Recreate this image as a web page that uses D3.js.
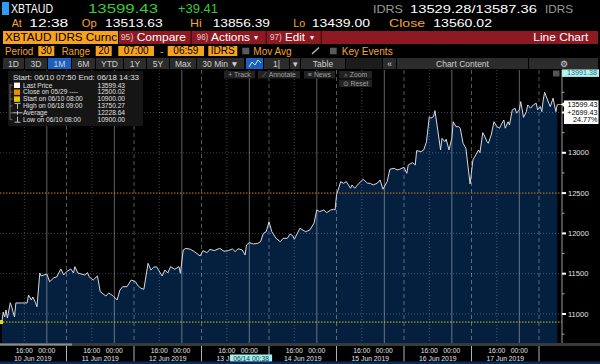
<!DOCTYPE html>
<html>
<head>
<meta charset="utf-8">
<title>XBTAUD</title>
<script src="https://cdn.jsdelivr.net/npm/d3@7"></script>
<style>
  body { margin: 0; background: #000; }
  svg { display: block; }
</style>
</head>
<body>
<div id="chart"></div>
<script>
  // quote header
  const ticker = "XBTAUD";
  const lastPrice = 13599.43, netChange = 39.41;
  const bid = 13529.28, ask = 13587.36;
  const quoteTime = "12:38", openPx = 13513.63, hiPx = 13856.39, loPx = 13439.00, closePx = 13560.02;

  // chart stats
  const priorClose = 12500.02, startPx = 10900.00, periodHigh = 13750.27, avgPx = 12228.64, periodLow = 10900.00;
  const cursorTime = "06/14 00:38", cursorPrice = 13991.38;

  const yTicks = [11000, 11500, 12000, 12500, 13000, 13500];
  const sessionLabels = ["10 Jun 2019", "11 Jun 2019", "12 Jun 2019", "13 Jun 2019",
                         "14 Jun 2019", "15 Jun 2019", "16 Jun 2019", "17 Jun 2019"];

  // 30 min closes
  const prices = [
    ["06/10 08:00",10900],["06/10 08:30",11025],["06/10 09:00",10963],["06/10 09:30",11050],
    ["06/10 10:00",10950],["06/10 11:00",11140],["06/10 11:30",11090],["06/10 12:30",10963],
    ["06/10 13:00",11137],["06/10 15:00",11137],["06/10 17:00",11137],["06/10 17:30",11236],
    ["06/10 18:30",11174],["06/10 19:00",11211],["06/10 20:00",11140],["06/10 20:30",11090],
    ["06/10 21:30",11509],["06/10 22:00",11472],["06/10 23:00",11484],["06/11 00:00",11496],
    ["06/11 01:00",11401],["06/11 02:30",11450],["06/11 03:30",11459],["06/11 05:00",11558],
    ["06/11 06:00",11484],["06/11 07:00",11525],["06/11 08:30",11558],["06/11 09:30",11509],
    ["06/11 10:00",11587],["06/11 11:00",11509],["06/11 13:30",11484],["06/11 14:30",11513],
    ["06/11 15:00",11463],["06/11 16:30",11422],["06/11 18:00",11472],["06/11 19:00",11277],
    ["06/11 21:00",11223],["06/11 22:00",11261],["06/11 23:30",11227],["06/12 01:00",11174],
    ["06/12 02:00",11298],["06/12 03:00",11339],["06/12 04:30",11339],["06/12 06:00",11422],
    ["06/12 07:30",11401],["06/12 08:30",11347],["06/12 09:30",11319],["06/12 10:30",11307],
    ["06/12 12:00",11629],["06/12 13:00",11546],["06/12 14:00",11580],["06/12 15:00",11587],
    ["06/12 17:00",11472],["06/12 18:00",11546],["06/12 19:00",11509],["06/12 20:00",11587],
    ["06/12 21:30",11555],["06/12 23:00",11587],["06/12 23:30",11505],["06/13 00:30",11794],
    ["06/13 01:30",11815],["06/13 03:00",11803],["06/13 04:30",11773],["06/13 06:30",11720],
    ["06/13 07:30",11786],["06/13 09:00",11761],["06/13 10:00",11803],["06/13 11:30",11786],
    ["06/13 13:30",11815],["06/13 15:00",11778],["06/13 16:30",11786],["06/13 18:00",11807],
    ["06/13 19:00",11773],["06/13 20:00",11810],["06/13 21:30",11794],["06/13 22:30",11732],
    ["06/13 23:00",11856],["06/14 00:00",11885],["06/14 01:30",11869],["06/14 03:00",11877],
    ["06/14 04:00",11897],["06/14 05:00",12001],["06/14 06:00",12021],["06/14 07:00",12145],
    ["06/14 08:00",12021],["06/14 09:30",11939],["06/14 11:00",11897],["06/14 12:00",11939],
    ["06/14 13:30",11939],["06/14 14:30",11993],["06/14 15:30",11968],["06/14 16:00",11927],
    ["06/14 18:00",12064],["06/14 20:00",12021],["06/14 21:30",12042],["06/14 23:00",12126],
    ["06/15 00:00",12291],["06/15 01:00",12270],["06/15 02:30",12291],["06/15 03:30",12257],
    ["06/15 05:00",12291],["06/15 06:00",12299],["06/15 06:30",12291],["06/15 07:00",12477],
    ["06/15 08:30",12642],["06/15 09:30",12622],["06/15 10:30",12642],["06/15 12:00",12560],
    ["06/15 12:30",12601],["06/15 13:30",12560],["06/15 15:00",12622],["06/15 16:30",12672],
    ["06/15 18:00",12622],["06/15 19:00",12622],["06/15 20:00",12601],["06/15 21:30",12622],
    ["06/15 22:30",12663],["06/15 23:30",12548],["06/16 01:00",12642],["06/16 02:00",12796],
    ["06/16 03:30",12808],["06/16 04:30",12787],["06/16 05:30",12796],["06/16 07:00",12821],
    ["06/16 08:00",12746],["06/16 08:30",12849],["06/16 10:00",12878],["06/16 11:00",12849],
    ["06/16 11:30",13027],["06/16 13:00",13014],["06/16 14:00",13035],["06/16 15:00",13138],
    ["06/16 16:00",13449],["06/16 16:30",13429],["06/16 17:30",13449],["06/16 18:00",13523],
    ["06/16 19:00",13283],["06/16 20:00",13035],["06/16 20:30",13180],["06/16 21:30",13138],
    ["06/16 22:00",13168],["06/16 23:00",13035],["06/17 00:00",13180],["06/17 00:30",13386],
    ["06/17 01:30",13324],["06/17 02:30",13324],["06/17 03:00",13305],["06/17 04:00",13118],
    ["06/17 05:00",13056],["06/17 05:30",12911],["06/17 06:30",12613],["06/17 07:30",12911],
    ["06/17 08:30",12973],["06/17 09:30",13035],["06/17 10:00",13002],["06/17 11:00",13250],
    ["06/17 11:30",13221],["06/17 12:30",13138],["06/17 13:00",13118],["06/17 14:00",13221],
    ["06/17 15:00",13386],["06/17 16:00",13324],["06/17 17:00",13305],["06/17 17:30",13345],
    ["06/17 18:30",13407],["06/17 19:00",13305],["06/17 20:00",13386],["06/17 20:30",13345],
    ["06/17 21:30",13532],["06/17 22:30",13553],["06/17 23:00",13491],["06/18 00:00",13532],
    ["06/18 00:30",13635],["06/18 01:30",13440],["06/18 02:30",13511],["06/18 03:00",13594],
    ["06/18 04:00",13553],["06/18 05:00",13594],["06/18 06:00",13615],["06/18 06:30",13532],
    ["06/18 07:30",13573],["06/18 08:00",13511],["06/18 08:30",13656],["06/18 09:00",13750.27],
    ["06/18 10:30",13615],["06/18 11:00",13573],["06/18 12:00",13677],["06/18 12:30",13594],
    ["06/18 13:00",13511],["06/18 13:30",13599.43]
  ];

  const FONT = "Liberation Sans, Arial, sans-serif";
  const ORANGE = "#f3a530", ORANGE_BOX = "#f7a21c";
  const fmt = d3.format(".2f");

  const svg = d3.select("#chart").append("svg")
    .attr("width", 600).attr("height", 364);
  svg.append("rect").attr("width", 600).attr("height", 364).attr("fill", "#000");

  function text(g, x, y, s, o = {}) {
    const t = g.append("text").attr("x", x).attr("y", y).text(s)
      .attr("fill", o.fill || "#fff")
      .attr("font-size", o.size || 10)
      .attr("font-family", o.family || FONT)
      .attr("text-anchor", o.anchor || "start");
    if (o.w) t.attr("textLength", o.w).attr("lengthAdjust", "spacingAndGlyphs");
    return t;
  }
  function box(g, x, y, w, h, fill) {
    return g.append("rect").attr("x", x).attr("y", y).attr("width", w).attr("height", h).attr("fill", fill);
  }

  // ---------- header rows ----------
  let hdr = svg.append("g");
  box(hdr, 2, 2, 7, 13, "#2a9df4");
  text(hdr, 11, 12.7, ticker, {size: 13, w: 42});
  text(hdr, 88, 12.7, fmt(lastPrice), {size: 13, fill: "#3cc83c", w: 70});
  text(hdr, 178, 12.7, d3.format("+.2f")(netChange), {size: 13, fill: "#3cc83c", w: 40});
  text(hdr, 373, 12.5, "IDRS", {size: 11, fill: "#9a9a9a", w: 30});
  text(hdr, 410, 12.5, fmt(bid) + "/" + fmt(ask), {size: 11.5, w: 127});
  text(hdr, 545, 12.5, "IDRS", {size: 11, fill: "#9a9a9a", w: 28});

  let row2 = [["At", 11.7, 10, ORANGE], [quoteTime, 29.3, 39, "#fff"],
              ["Op", 81.7, 15, ORANGE], [fmt(openPx), 105, 57.7, "#fff"],
              ["Hi", 190, 11.7, ORANGE], [fmt(hiPx), 212.7, 57.3, "#fff"],
              ["Lo", 293.3, 12, ORANGE], [fmt(loPx), 311.7, 58.3, "#fff"],
              ["Close", 389, 36, ORANGE], [fmt(closePx), 433.3, 58.7, "#fff"]];
  row2.forEach(([s, x0, w, c]) => text(hdr, x0, 27.3, s, {size: 11, fill: c, w: w}));

  // row 3: security + red menu bar
  box(hdr, 3, 31, 115, 13, ORANGE_BOX);
  text(hdr, 5, 40.8, ticker + " IDRS Curnc", {size: 11, fill: "#000", w: 112});
  box(hdr, 119, 31, 479, 13, "#8d1a22");
  [190.7, 265.7, 320.7].forEach(sx => box(hdr, sx, 31, 1, 13, "#3a0508"));
  [["95)", 120.7, 12.6, "Compare", 136.7, 49.3], ["96)", 196.7, 11.6, "Actions", 211, 39], ["97)", 270, 11.7, "Edit", 285, 20]]
    .forEach(([n, nx, nw, s, sx, sw]) => {
      text(hdr, nx, 40.3, n, {size: 9, fill: "#e8c8c8", w: nw});
      text(hdr, sx, 40.8, s, {size: 11, fill: "#fff", w: sw});
    });
  text(hdr, 254, 40, "▾", {size: 8, fill: "#eee"});
  text(hdr, 310, 40, "▾", {size: 8, fill: "#eee"});
  text(hdr, 588.3, 40.8, "Line Chart", {size: 11, fill: "#fff", anchor: "end", w: 55});

  // row 4: period / range
  text(hdr, 5, 54.6, "Period", {size: 10, fill: ORANGE, w: 28.3});
  text(hdr, 61.7, 54.6, "Range", {size: 10, fill: ORANGE, w: 28.3});
  text(hdr, 160, 54.6, "-", {size: 10, fill: ORANGE});
  [["30", 38.3, 16], ["20", 95.7, 16], ["07:00", 118.3, 35.7], ["06:59", 167.7, 36.3], ["IDRS", 208.3, 29]]
    .forEach(([s, bx, bw]) => {
      box(hdr, bx, 46, bw, 10, ORANGE_BOX);
      text(hdr, bx + bw / 2, 54.4, s, {size: 10, fill: "#000", anchor: "middle"});
    });
  box(hdr, 242.3, 47.7, 7, 6.6, "#5a5a5a");
  text(hdr, 253.3, 54.6, "Mov Avg", {size: 10, fill: ORANGE, w: 38.3});
  hdr.append("line").attr("x1", 312).attr("y1", 54).attr("x2", 319).attr("y2", 47.5)
    .attr("stroke", "#bbb").attr("stroke-width", 1.4);
  box(hdr, 330, 47.7, 6.7, 6.6, "#5a5a5a");
  text(hdr, 341.7, 54.6, "Key Events", {size: 10, fill: ORANGE, w: 51});

  // row 5: toolbar buttons
  let btns = [["1D", 3, 21], ["3D", 25, 22], ["1M", 48, 23, true], ["6M", 72, 23], ["YTD", 96, 27],
              ["1Y", 124, 22], ["5Y", 147, 22], ["Max", 170, 26], ["30 Min ▼", 197, 47], ["", 246, 17, true],
              ["1|", 264, 25], ["▾", 290, 10], ["Table", 301, 44], ["", 346, 36], ["«", 383, 13],
              ["Chart Content", 397, 131], ["⚙", 529, 69]];
  btns.forEach(([s, bx, bw, on]) => {
    box(hdr, bx, 58, bw, 11, on ? "#1d5fbf" : (s ? "#2c2c2c" : "#1c1c1c"));
    if (s) text(hdr, bx + bw / 2, 66.6, s, {size: 8.5, fill: "#d0d0d0", anchor: "middle"});
  });
  // line chart glyph in the blue button
  hdr.append("path").attr("d", "M249,67 L252,62 L255,65 L258,60 L261,63")
    .attr("fill", "none").attr("stroke", "#cfe0ff").attr("stroke-width", 1);

  // ---------- plot ----------
  const plotTop = 70, plotBottom = 343, plotRight = 562;
  const parse = d3.timeParse("%Y/%m/%d %H:%M");
  const T = s => parse("2019/" + s);
  const data = prices.map(([t, v]) => ({t: T(t), v: v}));

  const x = d3.scaleTime().domain([T("06/10 07:00"), T("06/18 15:00")]).range([-1, 561.5]);
  const y = d3.scaleLinear().domain([11000, 13500]).range([314, 112.5]);

  const plot = svg.append("g");
  plot.append("defs").append("clipPath").attr("id", "clip")
    .append("rect").attr("x", 0).attr("y", plotTop).attr("width", plotRight).attr("height", plotBottom - plotTop);
  const pg = plot.append("g").attr("clip-path", "url(#clip)");

  pg.append("path").datum(data)
    .attr("d", d3.area().x(d => x(d.t)).y0(plotBottom).y1(d => y(d.v)))
    .attr("fill", "#05203f");

  // grid
  const days = d3.timeDay.range(T("06/10 00:00"), T("06/19 00:00"));
  days.forEach(d => {
    [[0, 0.38, null], [7, 0.34, "4,3"], [16, 0.26, "1,2"]].forEach(([h, op, dash]) => {
      const xv = x(d3.timeHour.offset(d, h));
      if (xv < 1 || xv > plotRight - 1) return;
      pg.append("line").attr("x1", xv).attr("x2", xv).attr("y1", plotTop).attr("y2", plotBottom)
        .attr("stroke", "#fff").attr("stroke-opacity", op).attr("stroke-dasharray", dash);
    });
  });
  yTicks.forEach(v => {
    pg.append("line").attr("x1", 0).attr("x2", plotRight).attr("y1", y(v)).attr("y2", y(v))
      .attr("stroke", "#fff").attr("stroke-opacity", 0.26).attr("stroke-dasharray", "1,2");
  });

  // reference lines: prior close and period start
  pg.append("line").attr("x1", 0).attr("x2", plotRight).attr("y1", y(priorClose)).attr("y2", y(priorClose))
    .attr("stroke", "#c46a00").attr("stroke-dasharray", "1.5,1.5");
  pg.append("line").attr("x1", 0).attr("x2", plotRight).attr("y1", y(startPx)).attr("y2", y(startPx))
    .attr("stroke", "#d4c400").attr("stroke-dasharray", "1.5,1.5");
  box(pg, 0, y(startPx) - 2, 3, 4, "#e8d400");

  pg.append("path").datum(data)
    .attr("d", d3.line().x(d => x(d.t)).y(d => y(d.v)))
    .attr("fill", "none").attr("stroke", "#d4dae2").attr("stroke-width", 1);

  // y axis on the right (labels hidden where the last-price tag sits)
  plot.append("line").attr("x1", plotRight).attr("x2", plotRight).attr("y1", plotTop).attr("y2", plotBottom)
    .attr("stroke", "#9a9a9a");
  d3.range(10750, 13751, 250).forEach(v => {
    const major = v % 500 === 0;
    box(plot, plotRight, y(v) - (major ? 1 : 0.5), major ? 4 : 2.5, major ? 2 : 1, major ? "#fff" : "#aaa");
    if (major && Math.abs(y(v) - y(lastPrice)) > 20)
      text(plot, 568, y(v) + 2.6, String(v), {size: 7.5, fill: "#e0e0e0"});
  });

  // last price marker and box
  plot.append("line").attr("x1", x(data[data.length - 1].t)).attr("x2", 565)
    .attr("y1", y(lastPrice)).attr("y2", y(lastPrice)).attr("stroke", "#d0a020");
  box(plot, 564, y(lastPrice) - 4, 34.5, 23.5, "#fff");
  plot.append("path").attr("d", `M561,${y(lastPrice)} L565,${y(lastPrice) - 3} L565,${y(lastPrice) + 3}Z`).attr("fill", "#fff");
  [fmt(lastPrice), d3.format("+.2f")(lastPrice - startPx), d3.format(".2%")((lastPrice - startPx) / startPx)]
    .forEach((s, i) => text(plot, 597.5, y(lastPrice) + 2.5 + i * 7.6, s, {size: 7.2, fill: "#000", anchor: "end"}));

  // cursor price tag
  box(plot, 553, plotTop + 0.5, 6.5, 6, "#555");
  box(plot, 562, y(cursorPrice) - 3.5, 37, 7.5, "#b4f2f2");
  text(plot, 597, y(cursorPrice) + 2.6, fmt(cursorPrice), {size: 7.2, fill: "#2d6c74", anchor: "end"});

  // chart tool buttons
  [["+  Track", 224, 71, 31], ["⟋  Annotate", 258, 71, 42], ["≡  News", 304, 71, 31],
   ["⌕  Zoom", 339, 71, 33], ["⊙  Reset", 339, 79.5, 33]].forEach(([s, bx, by, bw]) => {
    box(plot, bx, by, bw, 7.5, "#222");
    text(plot, bx + bw / 2, by + 6, s, {size: 6.8, fill: "#a0a0a0", anchor: "middle"});
  });

  // legend panel
  const lg = plot.append("g");
  box(lg, 8, 71, 135, 55, "#151515");
  text(lg, 13, 79.8, "Start: 06/10 07:50 End: 06/18 14:33", {size: 7, fill: "#e0e0e0", w: 126});
  const legendRows = [
    ["Last Price", lastPrice, "#ffffff"],
    ["Close on 05/29 ----", priorClose, "#f08c00"],
    ["Start on 06/10 08:00", startPx, "#e8c800"],
    ["High on 06/18 09:00", periodHigh, "high"],
    ["Average", avgPx, "avg"],
    ["Low on 06/10 08:00", periodLow, "low"]
  ];
  lg.append("line").attr("x1", 10).attr("x2", 10).attr("y1", 84).attr("y2", 120).attr("stroke", "#666");
  legendRows.forEach(([s, v, ic], i) => {
    const cy = 85.2 + i * 6.9;
    lg.append("line").attr("x1", 10).attr("x2", 12.5).attr("y1", cy).attr("y2", cy).attr("stroke", "#666");
    if (ic === "high") {
      lg.append("path").attr("d", `M14.5,${cy - 2.5} H20.5 M17.5,${cy - 2.5} V${cy + 3}`).attr("stroke", "#bbb").attr("fill", "none");
    } else if (ic === "avg") {
      lg.append("path").attr("d", `M12.5,${cy} H22.5 M17.5,${cy - 2} V${cy + 2}`).attr("stroke", "#bbb").attr("fill", "none");
    } else if (ic === "low") {
      lg.append("path").attr("d", `M14.5,${cy + 2.5} H20.5 M17.5,${cy + 2.5} V${cy - 3}`).attr("stroke", "#bbb").attr("fill", "none");
    } else {
      box(lg, 14, cy - 2.6, 6, 5.4, ic);
    }
    text(lg, 23, cy + 2.3, s, {size: 6.6, fill: "#e0e0e0"});
    text(lg, 97.5, cy + 2.3, fmt(v), {size: 6.6, fill: "#e0e0e0"});
  });

  // ---------- x axis ----------
  const xa = svg.append("g");
  box(xa, 0, 343, 600, 3, "#3a3a3a");
  box(xa, 0, 343.5, 72, 2, "#8a8a8a");
  const sessions = d3.timeDay.range(T("06/10 00:00"), T("06/18 00:00"));
  sessions.forEach((d, i) => {
    const s0 = d3.timeHour.offset(d, 7);
    const xs = x(d3.timeDay.offset(s0, 1));
    xa.append("line").attr("x1", xs).attr("x2", xs).attr("y1", 346).attr("y2", 361.5).attr("stroke", "#b0b0b0");
    text(xa, x(d3.timeHour.offset(d, 16)), 353.3, "16:00", {size: 6.8, fill: "#e0e0e0", anchor: "middle"});
    text(xa, x(d3.timeHour.offset(d, 24)), 353.3, "00:00", {size: 6.8, fill: "#e0e0e0", anchor: "middle"});
    text(xa, x(d3.timeHour.offset(s0, 12)), 360.6, sessionLabels[i], {size: 6.8, fill: "#e0e0e0", anchor: "middle"});
  });
  const cx = x(T(cursorTime));
  box(xa, cx - 21, 354.5, 42, 7.2, "#a8f0f0");
  text(xa, cx, 360.6, cursorTime, {size: 6.8, fill: "#0e3b40", anchor: "middle"});
  box(xa, 0, 361.5, 600, 2.5, "#0b2b5c");
</script>
</body>
</html>
